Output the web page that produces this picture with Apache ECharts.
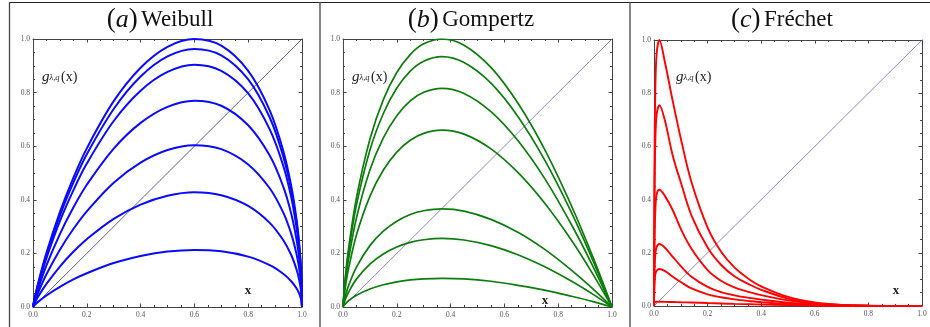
<!DOCTYPE html>
<html>
<head>
<meta charset="utf-8">
<script src="https://cdn.jsdelivr.net/npm/echarts@6/dist/echarts.min.js"></script>
<style>
html,body{margin:0;padding:0;background:#fff;}
#chart{width:930px;height:327px;}
</style>
</head>
<body>
<div id="chart"></div>
<script>
// tick labels
var tickLabels = ['0.0', '0.2', '0.4', '0.6', '0.8', '1.0'];
var titles = ['Weibull', 'Gompertz', 'Fréchet'];
var titleLetters = ['a', 'b', 'c'];

// (a) Weibull
var weibullX = [0, 0.005, 0.02, 0.05, 0.1, 0.15, 0.2, 0.3, 0.4, 0.5, 0.6, 0.7, 0.8, 0.88, 0.93, 0.96, 0.98, 0.99, 0.997, 1];
var weibullCurves = [
	[0, 0.027, 0.092, 0.202, 0.354, 0.482, 0.592, 0.768, 0.893, 0.971, 1.0, 0.975, 0.881, 0.734, 0.584, 0.452, 0.325, 0.231, 0.127, 0],
	[0, 0.026, 0.089, 0.194, 0.341, 0.464, 0.570, 0.739, 0.860, 0.935, 0.963, 0.939, 0.849, 0.707, 0.563, 0.436, 0.313, 0.223, 0.123, 0],
	[0, 0.024, 0.083, 0.182, 0.320, 0.435, 0.535, 0.694, 0.807, 0.877, 0.904, 0.881, 0.797, 0.663, 0.528, 0.409, 0.294, 0.209, 0.115, 0],
	[0, 0.021, 0.071, 0.155, 0.272, 0.371, 0.456, 0.591, 0.687, 0.747, 0.770, 0.751, 0.678, 0.565, 0.450, 0.348, 0.250, 0.178, 0.098, 0],
	[0, 0.016, 0.056, 0.122, 0.214, 0.291, 0.357, 0.464, 0.539, 0.586, 0.604, 0.589, 0.532, 0.443, 0.353, 0.273, 0.196, 0.140, 0.077, 0],
	[0, 0.012, 0.040, 0.086, 0.151, 0.206, 0.253, 0.329, 0.382, 0.415, 0.428, 0.417, 0.377, 0.314, 0.250, 0.194, 0.139, 0.099, 0.055, 0],
	[0, 0.006, 0.020, 0.043, 0.075, 0.103, 0.126, 0.164, 0.190, 0.207, 0.213, 0.208, 0.188, 0.156, 0.124, 0.096, 0.069, 0.049, 0.027, 0]
];

// (b) Gompertz
var gompertzX = [0, 0.005, 0.01, 0.02, 0.05, 0.1, 0.15, 0.2, 0.25, 0.3, 0.368, 0.45, 0.55, 0.65, 0.75, 0.85, 0.93, 1];
var gompertzCurves = [
	[0, 0.072, 0.125, 0.213, 0.407, 0.626, 0.774, 0.875, 0.942, 0.982, 1.0, 0.977, 0.894, 0.761, 0.587, 0.376, 0.184, 0],
	[0, 0.067, 0.117, 0.199, 0.380, 0.585, 0.722, 0.817, 0.880, 0.917, 0.934, 0.912, 0.835, 0.711, 0.548, 0.351, 0.171, 0],
	[0, 0.059, 0.102, 0.174, 0.332, 0.511, 0.631, 0.714, 0.769, 0.801, 0.816, 0.797, 0.729, 0.621, 0.479, 0.306, 0.150, 0],
	[0, 0.048, 0.083, 0.140, 0.269, 0.413, 0.511, 0.578, 0.622, 0.648, 0.660, 0.645, 0.590, 0.502, 0.387, 0.248, 0.121, 0],
	[0, 0.026, 0.046, 0.078, 0.149, 0.229, 0.283, 0.320, 0.345, 0.359, 0.366, 0.358, 0.327, 0.279, 0.215, 0.137, 0.067, 0],
	[0, 0.018, 0.032, 0.054, 0.104, 0.160, 0.198, 0.224, 0.241, 0.251, 0.256, 0.250, 0.229, 0.195, 0.150, 0.096, 0.047, 0],
	[0, 0.008, 0.013, 0.023, 0.044, 0.067, 0.083, 0.094, 0.101, 0.105, 0.107, 0.105, 0.096, 0.081, 0.063, 0.040, 0.020, 0]
];

// (c) Fréchet
var frechetX = [0, 0.002, 0.005, 0.01, 0.02, 0.04, 0.07, 0.1, 0.14, 0.2, 0.25, 0.3, 0.36, 0.4, 0.5, 0.6, 0.7, 0.8, 1];
var frechetCurves = [
	[0, 0.55, 0.82, 0.95, 1.0, 0.92, 0.77, 0.63, 0.465, 0.295, 0.205, 0.145, 0.097, 0.074, 0.034, 0.013, 0.004, 0.001, 0],
	[0, 0.42, 0.62, 0.72, 0.755, 0.70, 0.565, 0.465, 0.34, 0.22, 0.155, 0.112, 0.079, 0.061, 0.028, 0.011, 0.004, 0.001, 0],
	[0, 0.25, 0.36, 0.42, 0.437, 0.415, 0.36, 0.29, 0.215, 0.135, 0.095, 0.07, 0.051, 0.041, 0.021, 0.008, 0.003, 0.001, 0],
	[0, 0.14, 0.195, 0.222, 0.233, 0.22, 0.185, 0.15, 0.11, 0.072, 0.052, 0.04, 0.03, 0.024, 0.012, 0.005, 0.002, 0.001, 0],
	[0, 0.09, 0.12, 0.133, 0.139, 0.132, 0.11, 0.09, 0.066, 0.044, 0.033, 0.025, 0.018, 0.014, 0.007, 0.003, 0.001, 0, 0],
	[0, 0.012, 0.015, 0.016, 0.016, 0.0155, 0.015, 0.014, 0.013, 0.011, 0.0095, 0.008, 0.0065, 0.0055, 0.0035, 0.002, 0.001, 0.0005, 0]
];

var diagonal = [[0, 0], [1, 1]];

var panels = [
	{x: weibullX, curves: weibullCurves, color: '#0a0aff', width: 2, diag: '#33337f', left: 33, top: 39, w: 269, h: 268, tx: 160, lx: 248, ly: 291},
	{x: gompertzX, curves: gompertzCurves, color: '#0c7d0c', width: 1.7, diag: '#6a6ab4', left: 343, top: 39, w: 269, h: 268, tx: 471, lx: 545, ly: 301},
	{x: frechetX, curves: frechetCurves, color: '#ff0000', width: 1.9, diag: '#6a6ab4', left: 654, top: 40, w: 268, h: 266, tx: 782, lx: 896, ly: 291}
];

var myChart;
var axisColor = '#444';
var serif = 'Liberation Serif, DejaVu Serif, serif';

function $each(arr, fn){ for (var i = 0; i < arr.length; i++) fn(i, arr[i]); }

function xAxisFor(gi, pos){
	return {
		type: 'value', gridIndex: gi, position: pos, min: 0, max: 1, interval: 0.2,
		axisLine: {show: true, onZero: false, lineStyle: {color: axisColor, width: 1}},
		axisTick: {show: true, inside: true, length: 3.5, lineStyle: {color: axisColor}},
		minorTick: {show: true, splitNumber: 4, length: 2, lineStyle: {color: axisColor}},
		splitLine: {show: false},
		axisLabel: {show: pos == 'bottom', fontSize: 7.5, color: '#555', fontFamily: serif, margin: 4,
			formatter: function(v){ return tickLabels[Math.round(v * 5)]; }}
	};
}
function yAxisFor(gi, pos){
	return {
		type: 'value', gridIndex: gi, position: pos, min: 0, max: 1, interval: 0.2,
		axisLine: {show: true, onZero: false, lineStyle: {color: axisColor, width: 1}},
		axisTick: {show: true, inside: true, length: 3.5, lineStyle: {color: axisColor}},
		minorTick: {show: true, splitNumber: 4, length: 2, lineStyle: {color: axisColor}},
		splitLine: {show: false},
		axisLabel: {show: pos == 'left', fontSize: 7.5, color: '#555', fontFamily: serif, margin: 3,
			formatter: function(v){ return tickLabels[Math.round(v * 5)]; }}
	};
}

function build(){
	var grid = [], xAxis = [], yAxis = [], series = [], graphic = [];
	$each(panels, function(i, p){
		grid.push({left: p.left, top: p.top, width: p.w, height: p.h});
		xAxis.push(xAxisFor(i, 'bottom'));
		xAxis.push(xAxisFor(i, 'top'));
		yAxis.push(yAxisFor(i, 'left'));
		yAxis.push(yAxisFor(i, 'right'));
		series.push({
			type: 'line', xAxisIndex: i * 2, yAxisIndex: i * 2, data: diagonal,
			showSymbol: false, silent: true, z: 3,
			lineStyle: {color: p.diag, width: 0.8}
		});
		$each(p.curves, function(k, ys){
			var data = [];
			for (var j = 0; j < p.x.length; j++) data.push([p.x[j], ys[j]]);
			series.push({
				type: 'line', xAxisIndex: i * 2, yAxisIndex: i * 2, data: data,
				showSymbol: false, silent: true, smooth: 0.35, z: 4,
				lineStyle: {color: p.color, width: p.width}
			});
		});
		// title
		graphic.push({
			type: 'text', z: 10,
			style: {
				x: p.tx, y: 20, align: 'center', verticalAlign: 'middle',
				text: '{p|(}{i|' + titleLetters[i] + '}{p|)} {w|' + titles[i] + '}',
				rich: {
					p: {fontFamily: serif, fontSize: 27, fill: '#111'},
					i: {fontFamily: serif, fontStyle: 'italic', fontSize: 26, fill: '#111'},
					w: {fontFamily: serif, fontSize: 23, fill: '#111'}
				}
			}
		});
		// g label
		var gx = p.left + 9 + (i == 2 ? 13 : 0), gy = 70;
		graphic.push({type: 'text', z: 10, style: {x: gx, y: gy, text: 'g', fontFamily: serif, fontStyle: 'italic', fontSize: 15, fill: '#222', verticalAlign: 'alphabetic'}});
		graphic.push({type: 'text', z: 10, style: {x: gx + 7.5, y: gy + 3.5, text: 'λ,q', fontFamily: serif, fontStyle: 'italic', fontSize: 8.5, fill: '#222', verticalAlign: 'alphabetic'}});
		graphic.push({type: 'text', z: 10, style: {x: gx + 19, y: gy, text: '(x)', fontFamily: serif, fontSize: 14, fill: '#222', verticalAlign: 'alphabetic'}});
		// x label
		graphic.push({type: 'text', z: 10, style: {x: p.lx, y: p.ly, text: 'x', fontFamily: serif, fontWeight: 'bold', fontSize: 13, fill: '#222', align: 'center', verticalAlign: 'middle'}});
	});
	// table frame
	graphic.push({type: 'line', z: 1, shape: {x1: 9, y1: 2.5, x2: 930, y2: 2.5}, style: {stroke: '#222', lineWidth: 1.2}});
	$each([9.5, 320, 630], function(i, x){
		graphic.push({type: 'line', z: 1, shape: {x1: x, y1: 2, x2: x, y2: 327}, style: {stroke: '#444', lineWidth: 1.3}});
	});
	return {animation: false, backgroundColor: '#fff', grid: grid, xAxis: xAxis, yAxis: yAxis, series: series, graphic: graphic};
}

myChart = echarts.init(document.getElementById('chart'));
myChart.setOption(build());
window.onresize = function(){ if (myChart) myChart.resize(); };
</script>
</body>
</html>
